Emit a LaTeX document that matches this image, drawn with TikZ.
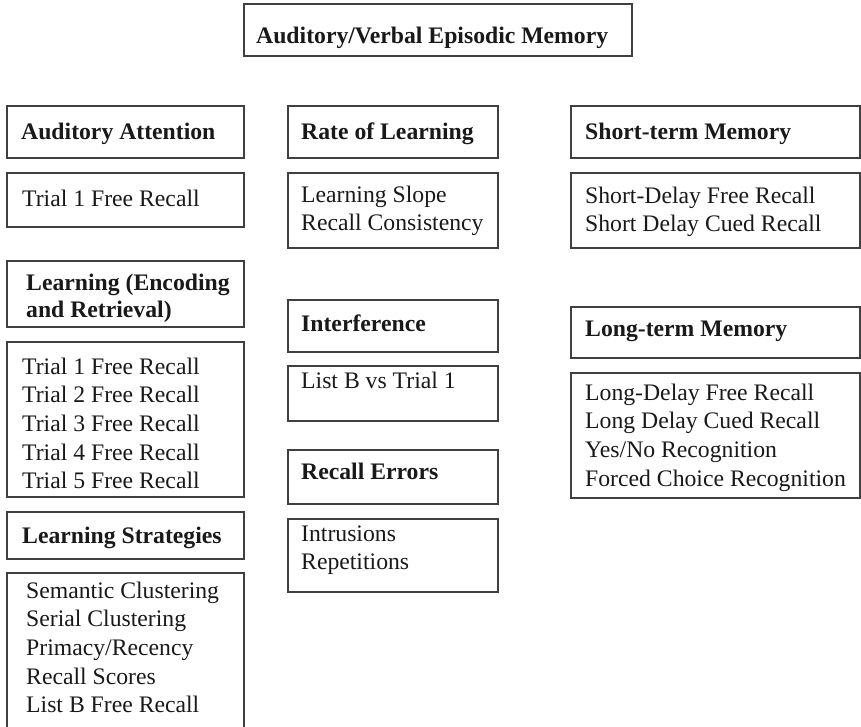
\documentclass[tikz,border=0pt]{standalone}
\usepackage{fontspec}
\setmainfont{Liberation Serif}
\usetikzlibrary{positioning}

% stacked lines, baseline on the first line
\newcommand{\boxlines}[1]{\begin{tabular}[t]{@{}l@{}}#1\end{tabular}}

\begin{document}
\begin{tikzpicture}[x=1pt, y=-1pt,
    box/.style={draw=black!75, line width=1.3pt},
    txt/.style={anchor=base west, inner sep=0pt, text=black!90,
                font=\fontsize{23.7}{28.7}\selectfont},
    hdr/.style={txt, font=\fontsize{23.7}{27.5}\selectfont\bfseries}]
        \useasboundingbox (0,0) rectangle (861,726);

        % Title
        \draw[box] (244,4) rectangle (632,56);
        \node[hdr] (title) at (256,43) {Auditory/Verbal Episodic Memory};

        % Left column
        \draw[box] (7,106) rectangle (244,158);
        \node[hdr] (attn) at (21,139) {Auditory Attention};
        \draw[box] (7,173) rectangle (244,227);
        \node[txt] (attnItems) at (22,206) {Trial 1 Free Recall};

        \draw[box] (7,261) rectangle (244,327);
        \node[hdr] (learn) at (26,290) {\boxlines{Learning (Encoding\\and Retrieval)}};
        \draw[box] (7,342) rectangle (244,497);
        \node[txt] (learnItems) at (22,374) {\boxlines{Trial 1 Free Recall\\Trial 2 Free Recall\\Trial 3 Free Recall\\Trial 4 Free Recall\\Trial 5 Free Recall}};

        \draw[box] (7,512) rectangle (244,559);
        \node[hdr] (strat) at (22,543) {Learning Strategies};
        \draw[box] (7,573) rectangle (244,760);
        \node[txt] (stratItems) at (26,598) {\boxlines{Semantic Clustering\\Serial Clustering\\Primacy/Recency\\Recall Scores\\List B Free Recall}};

        % Middle column
        \draw[box] (288,106) rectangle (498,158);
        \node[hdr] (rate) at (301,139) {Rate of Learning};
        \draw[box] (288,173) rectangle (498,248);
        \node[txt] (rateItems) at (301,202) {\boxlines{Learning Slope\\Recall Consistency}};

        \draw[box] (288,300) rectangle (498,352);
        \node[hdr] (interf) at (301,331) {Interference};
        \draw[box] (288,366) rectangle (498,421);
        \node[txt] (interfItems) at (301,388) {List B vs Trial 1};

        \draw[box] (288,450) rectangle (498,504);
        \node[hdr] (errors) at (301,479) {Recall Errors};
        \draw[box] (288,519) rectangle (498,592);
        \node[txt] (errorsItems) at (301,541) {\boxlines{Intrusions\\Repetitions}};

        % Right column
        \draw[box] (571,106) rectangle (860,158);
        \node[hdr] (stm) at (585,139) {Short-term Memory};
        \draw[box] (571,173) rectangle (860,248);
        \node[txt] (stmItems) at (585,203) {\boxlines{Short-Delay Free Recall\\Short Delay Cued Recall}};

        \draw[box] (571,307) rectangle (860,358);
        \node[hdr] (ltm) at (585,336) {Long-term Memory};
        \draw[box] (571,373) rectangle (860,498);
        \node[txt] (ltmItems) at (585,400) {\boxlines{Long-Delay Free Recall\\Long Delay Cued Recall\\Yes/No Recognition\\Forced Choice Recognition}};

    \end{tikzpicture}
\end{document}
